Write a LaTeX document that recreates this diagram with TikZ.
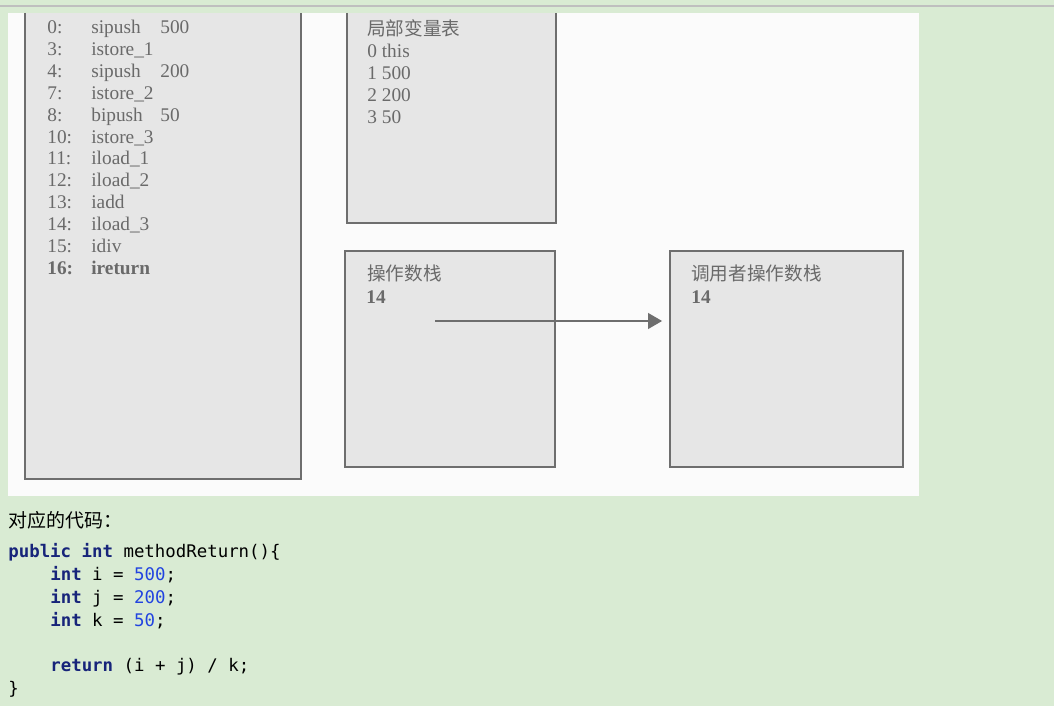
\documentclass[tikz,border=0pt]{standalone}
\usepackage{fontspec}
\setmainfont{Liberation Serif}
\newfontfamily\cjk{Noto Sans CJK SC}
\newfontfamily\codefont{DejaVu Sans Mono}
\usetikzlibrary{arrows.meta,positioning}

\definecolor{bggreen}{HTML}{D9EBD3}
\definecolor{panelwhite}{HTML}{FBFBFB}
\definecolor{boxfill}{HTML}{E6E6E6}
\definecolor{boxline}{HTML}{6E6E6E}
\definecolor{textgray}{HTML}{6A6A6A}
\definecolor{kwblue}{HTML}{17247A}
\definecolor{numblue}{HTML}{2244E0}

\begin{document}
\begin{tikzpicture}[x=0.02cm, y=-0.02cm,
    frame/.style={draw=boxline, fill=boxfill, line width=0.9pt, inner sep=0pt, outer sep=0pt, anchor=north west},
    openframe/.style={frame, draw=none},
    side/.style={draw=boxline, line width=0.9pt},
    txt/.style={anchor=base west, inner sep=0pt, text=textgray, font=\fontsize{11}{13}\selectfont},
    cn/.style={txt, font=\cjk\fontsize{10.6}{13}\selectfont},
    code/.style={anchor=base west, inner sep=0pt, font=\codefont\fontsize{9.9}{12}\selectfont},
    arrow/.style={-{Triangle[length=8pt, width=9pt]}, draw=boxline, line width=1pt}
]
\useasboundingbox (0,0) rectangle (1054,706);

% Background and picture panel
\fill[bggreen] (0,0) rectangle (1054,706);
\draw[black!25, line width=0.6pt] (0,6) -- (1054,6);
\fill[panelwhite] (8,13) rectangle (919,496);

% Bytecode box (cut off at the top)
\node[openframe, minimum width=5.52cm, minimum height=9.32cm] (bytecode) at (25,13) {};
\draw[side] (bytecode.north west) -- (bytecode.south west) -- (bytecode.south east) -- (bytecode.north east);
\foreach \i/\n/\op/\v in {0/0:/sipush/500, 1/3:/istore\_1/, 2/4:/sipush/200, 3/7:/istore\_2/,
    4/8:/bipush/50, 5/10:/istore\_3/, 6/11:/iload\_1/, 7/12:/iload\_2/,
    8/13:/iadd/, 9/14:/iload\_3/, 10/15:/idiv/}{
  \node[txt] (num\i) at (47,33.5+21.9*\i) {\n};
  \node[txt] (op\i) at (91,33.5+21.9*\i) {\op};
  \node[txt] (val\i) at (160,33.5+21.9*\i) {\v};
}
\node[txt, font=\bfseries\fontsize{11}{13}\selectfont] (num11) at (47,274.4) {16:};
\node[txt, font=\bfseries\fontsize{11}{13}\selectfont] (op11) at (91,274.4) {ireturn};

% Local variable table (cut off at the top)
\node[openframe, minimum width=4.18cm, minimum height=4.2cm] (locals) at (347,13) {};
\draw[side] (locals.north west) -- (locals.south west) -- (locals.south east) -- (locals.north east);
\node[cn] (localstitle) at (367,36) {局部变量表};
\node[txt] (local0) at (367,57.5) {0 this};
\node[txt] (local1) at (367,79.5) {1 500};
\node[txt] (local2) at (367,101.5) {2 200};
\node[txt] (local3) at (367,123.5) {3 50};

% Operand stack
\node[frame, minimum width=4.2cm, minimum height=4.32cm] (opstack) at (345,251) {};
\node[cn] (opstacktitle) at (367,280) {操作数栈};
\node[txt, font=\bfseries\fontsize{11}{13}\selectfont] (opvalue) at (366,303) {14};

% Caller operand stack
\node[frame, minimum width=4.66cm, minimum height=4.32cm] (caller) at (670,251) {};
\node[cn] (callertitle) at (691,280) {调用者操作数栈};
\node[txt, font=\bfseries\fontsize{11}{13}\selectfont] (callervalue) at (691,303) {14};

% Return value goes to caller
\coordinate (retstart) at (435,321);
\draw[arrow, shorten >=4.5pt] (retstart) -- (caller.west |- retstart);

% Source code
\node[anchor=base west, inner sep=0pt, font=\cjk\fontsize{10.8}{13}\selectfont] (codetitle) at (8,527) {对应的代码：};
\node[code] (line1) at (8,557) {\textcolor{kwblue}{\bfseries public int} methodReturn()\{};
\node[code] (line2) at (50,580) {\textcolor{kwblue}{\bfseries int} i = \textcolor{numblue}{500};};
\node[code] (line3) at (50,603) {\textcolor{kwblue}{\bfseries int} j = \textcolor{numblue}{200};};
\node[code] (line4) at (50,626) {\textcolor{kwblue}{\bfseries int} k = \textcolor{numblue}{50};};
\node[code] (line5) at (50,671) {\textcolor{kwblue}{\bfseries return} (i + j) / k;};
\node[code] (line6) at (8,694) {\}};

\end{tikzpicture}
\end{document}
